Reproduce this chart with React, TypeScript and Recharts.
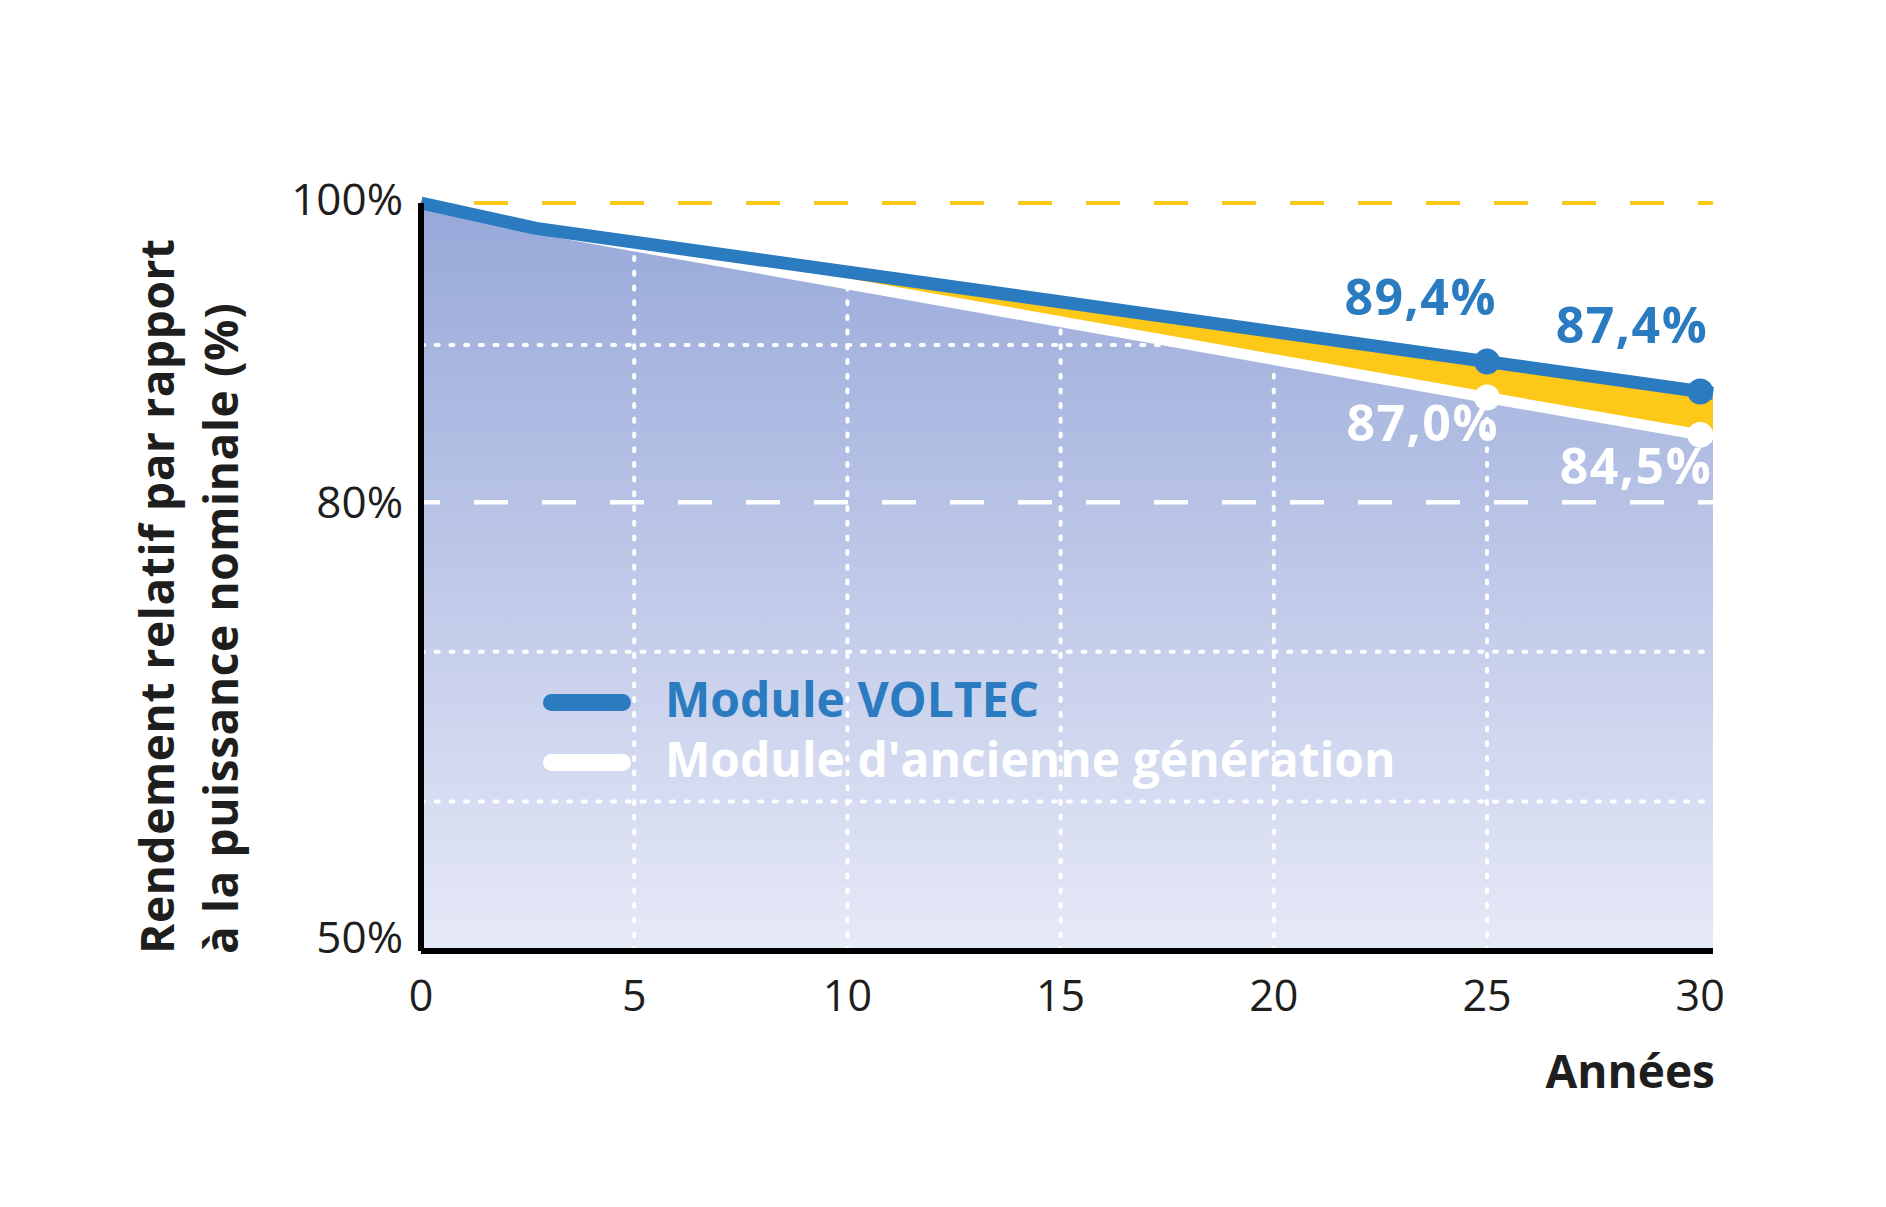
import {
  ComposedChart,
  Area,
  Line,
  XAxis,
  YAxis,
  ReferenceLine,
  Label,
  Legend,
} from "recharts";

// values (labels give the exact end values)
const years = [0, 2.7, 25, 30, 30.3];
const voltec = [100, 98.3, 89.4, 87.4, 87.28];
const ancienne = [100, 98.3, 87.0, 84.5, 84.35];
const markedYears = [25, 30];

const xTicks = [0, 5, 10, 15, 20, 25, 30];
const yTicks = [50, 80, 100];
const dottedY = [60, 70, 90.5];
const dottedX = [5, 10, 15, 20, 25];
const seriesNames = ["Module VOLTEC", "Module d'ancienne génération"];

const FONT = "'Open Sans', 'Noto Sans', sans-serif";
const BLUE = "#2B7BC1";
const YELLOW = "#FEC818";
const WHITE = "#FFFFFF";
const INK = "#1E1E1E";

const data = years.map((year, i) => ({
  year,
  voltec: voltec[i],
  ancienne: ancienne[i],
  band: [ancienne[i], voltec[i]],
}));

const fmt = (v: number) => v.toFixed(1).replace(".", ",") + "%";

// label offsets from each marked dot
const blueOffsets: Record<number, { dx: number; dy: number }> = {
  25: { dx: 10, dy: -47 },
  30: { dx: 8, dy: -48 },
};
const whiteOffsets: Record<number, { dx: number; dy: number }> = {
  25: { dx: 12, dy: 44 },
  30: { dx: 12, dy: 49 },
};

const pointLabel =
  (color: string, offsets: Record<number, { dx: number; dy: number }>) =>
  (props: any) => {
    const x = props.x ?? props.viewBox?.x;
    const y = props.y ?? props.viewBox?.y;
    const index = props.index;
    const o = offsets[years[index]];
    if (!o || x == null || y == null) return <g key={`l-${index}`} />;
    return (
      <text
        key={`l-${index}`}
        x={x + o.dx}
        y={y + o.dy}
        textAnchor="end"
        fill={color}
        fontFamily={FONT}
        fontSize={50}
        fontWeight={700}
        letterSpacing={1.5}
      >
        {fmt(props.value)}
      </text>
    );
  };

const markerDot = (fill: string) => (props: any) => {
  const { cx, cy, index, payload } = props;
  if (!markedYears.includes(payload?.year)) return <g key={`d-${index}`} />;
  return <circle key={`d-${index}`} cx={cx} cy={cy} r={13} fill={fill} />;
};

const XTick = (props: any) => (
  <text
    x={props.x}
    y={props.y + 60}
    textAnchor="middle"
    fill={INK}
    fontFamily={FONT}
    fontSize={43}
  >
    {props.payload.value}
  </text>
);

const YTick = (props: any) => {
  const v = props.payload.value;
  const dy = v === 50 ? 2 : v === 100 ? 12 : 16;
  return (
    <text
      x={props.x - 18}
      y={props.y + dy}
      textAnchor="end"
      fill={INK}
      fontFamily={FONT}
      fontSize={44}
    >
      {v}%
    </text>
  );
};

const YTitle = (props: any) => {
  const vb = props.viewBox || { y: 203, height: 748 };
  const bottom = vb.y + vb.height + 3;
  const common = {
    fill: INK,
    fontFamily: FONT,
    fontSize: 46,
    fontWeight: 700,
    letterSpacing: 0.6,
  };
  return (
    <g>
      <text transform={`translate(174, ${bottom}) rotate(-90)`} {...common}>
        Rendement relatif par rapport
      </text>
      <text transform={`translate(238, ${bottom}) rotate(-90)`} {...common}>
        à la puissance nominale (%)
      </text>
    </g>
  );
};

const XTitle = (props: any) => {
  const vb = props.viewBox || { x: 421, y: 951, width: 1292 };
  return (
    <text
      x={vb.x + vb.width + 2}
      y={vb.y + 137}
      textAnchor="end"
      fill={INK}
      fontFamily={FONT}
      fontSize={46}
      fontWeight={700}
    >
      Années
    </text>
  );
};

const ChartLegend = () => {
  const items = [
    { label: seriesNames[0], color: BLUE },
    { label: seriesNames[1], color: WHITE },
  ];
  return (
    <div style={{ fontFamily: FONT }}>
      {items.map((item) => (
        <div
          key={item.label}
          style={{ display: "flex", alignItems: "center", height: 60 }}
        >
          <span
            style={{
              display: "inline-block",
              width: 88,
              height: 17,
              borderRadius: 9,
              background: item.color,
              marginRight: 34,
            }}
          />
          <span
            style={{
              color: item.color,
              fontSize: 48,
              fontWeight: 700,
              lineHeight: "60px",
              whiteSpace: "nowrap",
              marginTop: -6,
            }}
          >
            {item.label}
          </span>
        </div>
      ))}
    </div>
  );
};

export default function App() {
  return (
    <div
      style={{
        position: "absolute",
        left: 0,
        top: 0,
        width: 1886,
        height: 1207,
        background: "#fff",
        fontFamily: FONT,
      }}
    >
      <ComposedChart
        width={1886}
        height={1207}
        data={data}
        margin={{ top: 203, right: 173, bottom: 0, left: 0 }}
      >
        <defs>
          <linearGradient id="fadeFill" x1="0" y1="0" x2="0" y2="1">
            <stop offset="0%" stopColor="#97A8D9" />
            <stop offset="100%" stopColor="#E6E9F7" />
          </linearGradient>
        </defs>

        <Area
          dataKey="ancienne"
          type="linear"
          baseValue={50}
          fill="url(#fadeFill)"
          fillOpacity={1}
          stroke="none"
          dot={false}
          activeDot={false}
          legendType="none"
          isAnimationActive={false}
          zIndex={100}
        />

        {dottedY.map((v) => (
          <ReferenceLine
            key={`gy${v}`}
            y={v}
            stroke={WHITE}
            strokeWidth={4}
            strokeDasharray="3 11.7"
            strokeLinecap="round"
            zIndex={110}
          />
        ))}
        {dottedX.map((v) => (
          <ReferenceLine
            key={`gx${v}`}
            x={v}
            stroke={WHITE}
            strokeWidth={4}
            strokeDasharray="3 11.7"
            strokeLinecap="round"
            zIndex={110}
          />
        ))}
        <ReferenceLine
          y={80}
          stroke={WHITE}
          strokeWidth={4.5}
          strokeDasharray="34 34"
          strokeDashoffset={15}
          zIndex={112}
        />

        <Area
          dataKey="band"
          type="linear"
          fill={YELLOW}
          fillOpacity={1}
          stroke="none"
          dot={false}
          activeDot={false}
          legendType="none"
          isAnimationActive={false}
          zIndex={120}
        />

        <ReferenceLine
          y={100}
          stroke={YELLOW}
          strokeWidth={4}
          strokeDasharray="34 34"
          strokeDashoffset={15}
          zIndex={130}
        />

        <Line
          dataKey="ancienne"
          name={seriesNames[1]}
          type="linear"
          stroke={WHITE}
          strokeWidth={11}
          dot={markerDot(WHITE)}
          activeDot={false}
          label={pointLabel(WHITE, whiteOffsets)}
          isAnimationActive={false}
          zIndex={400}
        />
        <Line
          dataKey="voltec"
          name={seriesNames[0]}
          type="linear"
          stroke={BLUE}
          strokeWidth={13}
          dot={markerDot(BLUE)}
          activeDot={false}
          label={pointLabel(BLUE, blueOffsets)}
          isAnimationActive={false}
          zIndex={410}
        />

        <XAxis
          dataKey="year"
          type="number"
          domain={[0, 30.3]}
          ticks={xTicks}
          interval={0}
          height={256}
          axisLine={{ stroke: "#000", strokeWidth: 6 }}
          tickLine={false}
          tickSize={0}
          tickMargin={0}
          tick={<XTick />}
        >
          <Label content={XTitle} />
        </XAxis>
        <YAxis
          type="number"
          domain={[50, 100]}
          ticks={yTicks}
          interval={0}
          width={421}
          axisLine={{ stroke: "#000", strokeWidth: 6 }}
          tickLine={false}
          tickSize={0}
          tickMargin={0}
          tick={<YTick />}
        >
          <Label content={YTitle} />
        </YAxis>

        <Legend
          layout="horizontal"
          verticalAlign="middle"
          align="center"
          content={<ChartLegend />}
          wrapperStyle={{ position: "absolute", left: 543, top: 672, width: 900 }}
        />
      </ComposedChart>
    </div>
  );
}
